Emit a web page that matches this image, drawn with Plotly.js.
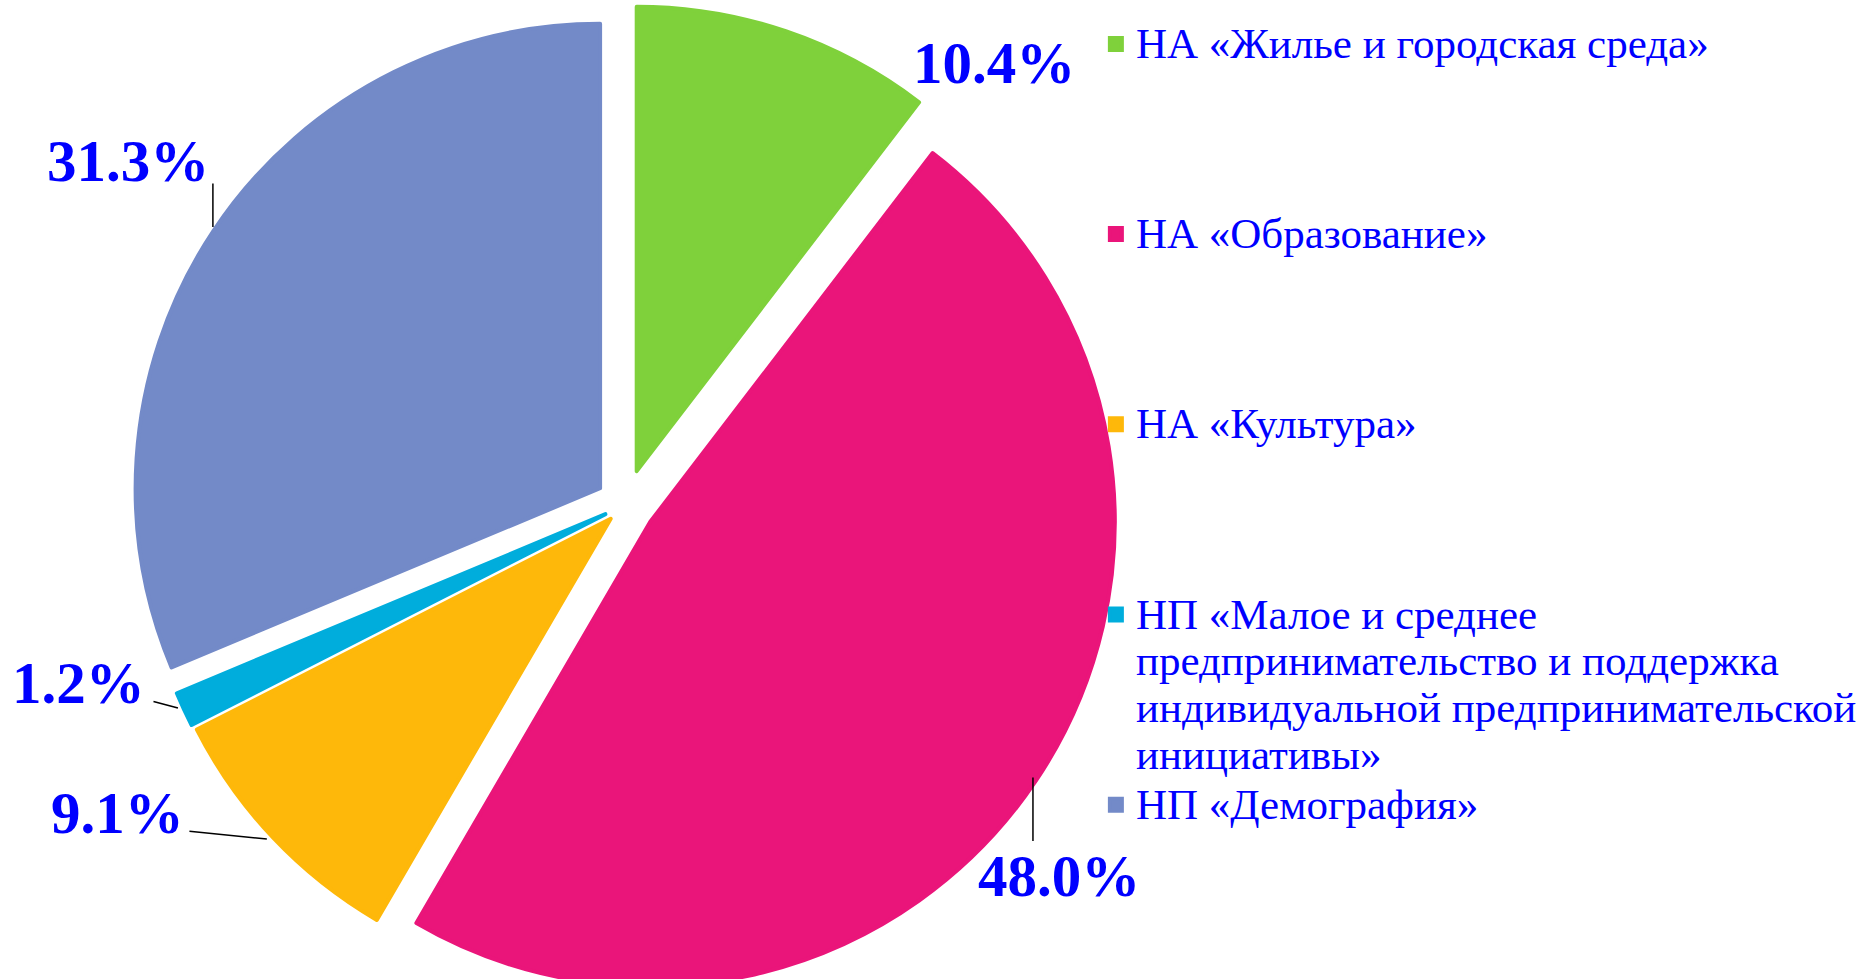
<!DOCTYPE html>
<html><head><meta charset="utf-8">
<script src="https://cdn.plot.ly/plotly-3.0.1.min.js"></script>
<style>html,body{margin:0;padding:0;overflow:hidden;background:#fff}#chart{width:1862px;height:1006px}</style>
</head><body><div id="chart"></div>
<script>
// ---- data ----
const categories = [
  'НА «Жилье и городская среда»',
  'НА «Образование»',
  'НА «Культура»',
  'НП «Малое и среднее предпринимательство и поддержка индивидуальной предпринимательской инициативы»',
  'НП «Демография»'
];
const shares = [10.4, 48.0, 9.1, 1.2, 31.3];

// ---- style / layout ----
const sliceColors = ['#7FD13B', '#EA157A', '#FEB80A', '#00ADDC', '#738AC8'];
const slicePull = [0.077, 0.065, 0.043, 0.047, 0.065];
const W = 1862, H = 1006, M = {l: 125, r: 0, t: 4, b: 0};
const plotW = W - M.l - M.r, plotH = H - M.t - M.b;
const px2x = px => (px - M.l) / plotW;
const px2y = py => 1 - (py - M.t) / plotH;

// label placement (pixels) and leader lines [x0,y0,x1,y1]
const labelPos = [[995, 63], [1060, 876], [117, 813], [78, 683], [128, 161]];
const leaders = [null, [1034, 776, 1034, 841], [188, 831, 267, 839], [152, 701, 178, 708], [213, 182, 213, 227]];

function wrap(s, maxLen) {
  const words = s.split(' '); const lines = []; let cur = '';
  words.forEach(w => {
    if (cur && (cur + ' ' + w).length > maxLen) { lines.push(cur); cur = w; }
    else cur = cur ? cur + ' ' + w : w;
  });
  if (cur) lines.push(cur);
  return lines;
}
const legendLabels = categories.map((c, i) => {
  const lines = wrap(c, 35).map(l => '<span style="font-size:43px">' + l + '</span>');
  if (i < categories.length - 1) while (lines.length < 4) lines.push('\u00a0');
  return lines.join('<br>');
});

const trace = {
  type: 'pie',
  labels: legendLabels,
  values: shares,
  sort: false,
  direction: 'clockwise',
  rotation: 0,
  pull: slicePull,
  marker: {colors: sliceColors, line: {width: 4, color: sliceColors}},
  textinfo: 'none',
  hoverinfo: 'skip',
  domain: {x: [0, 1001.6 / plotW], y: [0, 1]}
};

const annotations = [];
shares.forEach((v, i) => {
  annotations.push({
    xref: 'paper', yref: 'paper',
    x: px2x(labelPos[i][0]), y: px2y(labelPos[i][1]),
    xanchor: 'center', yanchor: 'middle',
    text: '<b>' + v.toFixed(1) + '%</b>',
    showarrow: false,
    font: {family: 'Liberation Serif', size: 59, color: '#0000FF'}
  });
  const L = leaders[i];
  if (L) {
    annotations.push({
      xref: 'paper', yref: 'paper', axref: 'paper', ayref: 'paper',
      x: px2x(L[2]), y: px2y(L[3]), ax: px2x(L[0]), ay: px2y(L[1]),
      text: '', showarrow: true, arrowhead: 0, arrowwidth: 1.5, arrowcolor: '#000000',
      standoff: 0, startstandoff: 0
    });
  }
});

const layout = {
  width: W, height: H,
  margin: M,
  paper_bgcolor: '#ffffff',
  showlegend: true,
  annotations: annotations,
  legend: {
    x: px2x(1097), xanchor: 'left', y: px2y(14), yanchor: 'top',
    valign: 'top',
    font: {family: 'Liberation Serif', size: 36, color: '#0000FF'},
    bgcolor: 'rgba(0,0,0,0)'
  }
};

Plotly.newPlot('chart', [trace], layout, {staticPlot: true});
</script>
</body></html>
